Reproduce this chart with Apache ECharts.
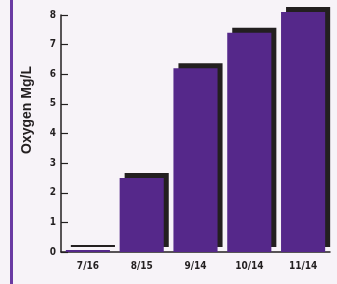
<!DOCTYPE html>
<html>
<head>
<meta charset="utf-8">
<script src="https://cdn.jsdelivr.net/npm/echarts@6/dist/echarts.min.js"></script>
<style>
  html, body { margin: 0; padding: 0; background: #f7f3f8; }
  #chart { width: 337px; height: 284px; }
</style>
</head>
<body>
<div id="chart"></div>
<script>
// sample dates and dissolved oxygen readings
var dates = ['7/16', '8/15', '9/14', '10/14', '11/14'];
var oxygen = [0.07, 2.5, 6.2, 7.4, 8.1];
var yTicks = [0, 1, 2, 3, 4, 5, 6, 7, 8];
var yTitle = 'Oxygen Mg/L';

var purple = '#55288a';
var ink = '#231f20';

var myChart = echarts.init(document.getElementById('chart'));

option = {
  backgroundColor: '#f7f3f8',
  animation: false,
  graphic: [{
    type: 'rect',
    shape: { x: 10, y: 0, width: 3, height: 284 },
    style: { fill: '#6a3aa3' }
  }, {
    // axis title sits higher than the plot middle in the original
    type: 'text',
    x: 27, y: 110,
    rotation: Math.PI / 2,
    style: {
      text: yTitle, fill: ink, align: 'center', verticalAlign: 'middle',
      fontFamily: 'Liberation Sans', fontWeight: 'bold', fontSize: 14
    }
  }],
  grid: { left: 61, right: 7, top: 15, bottom: 32 },
  xAxis: {
    type: 'category',
    data: dates,
    axisLine: { lineStyle: { color: ink, width: 1.5 } },
    axisTick: { show: false },
    axisLabel: {
      color: ink, fontFamily: 'DejaVu Sans Condensed', fontWeight: 'bold',
      fontSize: 10, margin: 9
    }
  },
  yAxis: {
    type: 'value',
    min: yTicks[0],
    max: yTicks[yTicks.length - 1],
    interval: 1,
    axisLine: { show: true, lineStyle: { color: ink, width: 1.5 } },
    axisTick: { show: true, inside: true, length: 7, lineStyle: { color: ink, width: 1.2 } },
    splitLine: { show: false },
    axisLabel: {
      color: ink, fontFamily: 'DejaVu Sans Condensed', fontWeight: 'bold',
      fontSize: 10, margin: 5
    }
  },
  series: [{
    type: 'bar',
    data: oxygen,
    clip: false,
    barCategoryGap: '18%',
    itemStyle: {
      color: purple,
      shadowColor: ink,
      shadowBlur: 0,
      shadowOffsetX: 5,
      shadowOffsetY: -5
    }
  }]
};

myChart.setOption(option);
</script>
</body>
</html>
